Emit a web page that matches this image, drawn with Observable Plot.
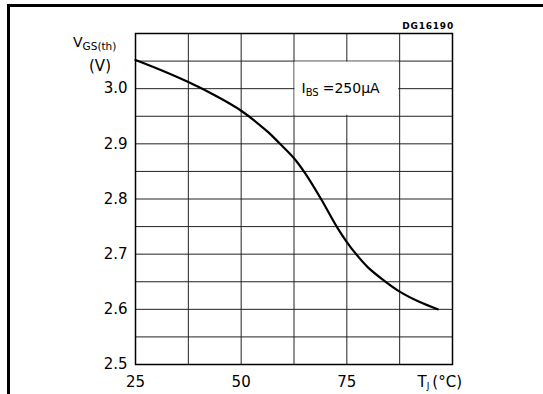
<!DOCTYPE html>
<html>
<head>
<meta charset="utf-8">
<script src="https://cdn.jsdelivr.net/npm/d3@7"></script>
<script src="https://cdn.jsdelivr.net/npm/@observablehq/plot@0.6"></script>
<style>
  html, body { margin: 0; padding: 0; background: #fff; }
  #wrap { position: relative; width: 543px; height: 394px; overflow: hidden; }
  #border { position: absolute; left: 7px; top: 4px; right: -10px; bottom: -10px;
            border-top: 3px solid #000; border-left: 3px solid #000; pointer-events: none; }
  svg { display: block; }
</style>
</head>
<body>
<div id="wrap"><div id="border"></div></div>
<script>
// Junction temperature (°C) and gate threshold voltage (V)
const tj  = [25, 31.25, 37.5, 43.75, 50, 56.25, 59.2, 62.5, 65.2, 68.9, 72.6, 75, 77.2, 80, 83.8, 87.5, 92, 96.5];
const vgs = [3.052, 3.033, 3.012, 2.988, 2.960, 2.922, 2.900, 2.874, 2.846, 2.800, 2.750, 2.722, 2.700, 2.676, 2.652, 2.632, 2.614, 2.600];

const xTicks = [25, 50, 75];
const yTicks = [2.5, 2.6, 2.7, 2.8, 2.9, 3.0];
const xGrid = [25, 37.5, 50, 62.5, 75, 87.5, 100];
const yGrid = [2.5, 2.55, 2.6, 2.65, 2.7, 2.75, 2.8, 2.85, 2.9, 2.95, 3.0, 3.05, 3.1];
const boxX = [62.5, 87.5];
const boxY = [2.95, 3.05];

const data = tj.map((t, i) => ({t, v: vgs[i]}));
const box = [{x1: boxX[0], x2: boxX[1], y1: boxY[0], y2: boxY[1]}];

const chart = Plot.plot({
  width: 543,
  height: 394,
  marginLeft: 135,
  marginRight: 91,
  marginTop: 33,
  marginBottom: 30,
  style: {fontFamily: "DejaVu Sans", fontSize: "15px", color: "#000", background: "transparent"},
  x: {domain: [25, 100], ticks: xTicks, tickSize: 0, tickPadding: 12, label: null},
  y: {domain: [2.5, 3.1], ticks: yTicks, tickSize: 0, tickPadding: 8, tickFormat: d3.format(".1f"), label: null},
  marks: [
    Plot.ruleX(xGrid, {stroke: "#222", strokeWidth: 1}),
    Plot.ruleY(yGrid, {stroke: "#222", strokeWidth: 1}),
    Plot.rect(box, {x1: "x1", x2: "x2", y1: "y1", y2: "y2", fill: "white", inset: 1}),
    Plot.line(data, {x: "t", y: "v", stroke: "#000", strokeWidth: 2.2, curve: "catmull-rom"}),
    Plot.frame({stroke: "#000", strokeWidth: 1.5})
  ]
});

document.getElementById("wrap").prepend(chart);

const xs = chart.scale("x"), ys = chart.scale("y");
const svg = d3.select(chart);
const g = svg.append("g").attr("font-family", "DejaVu Sans").attr("fill", "#000");

// Annotation I_BS = 250µA
const ann = g.append("text")
  .attr("x", xs.apply(62.5) + 8)
  .attr("y", ys.apply(3.0))
  .attr("dy", "0.36em")
  .attr("text-anchor", "start")
  .attr("font-size", 14);
ann.append("tspan").text("I");
ann.append("tspan").attr("font-size", 10).attr("dy", 3).text("BS");
ann.append("tspan").attr("dy", -3).attr("dx", 4).text("=250\u03bcA");

// Y axis title
const yt = g.append("text").attr("x", 73).attr("y", ys.apply(3.1) + 14)
  .attr("text-anchor", "start").attr("font-size", 14);
yt.append("tspan").text("V");
yt.append("tspan").attr("font-size", 10.5).attr("dy", 3).text("GS(th)");
g.append("text").attr("x", 100).attr("y", ys.apply(3.1) + 38)
  .attr("text-anchor", "middle").attr("font-size", 15).text("(V)");

// X axis title T_J (°C)
const xt = g.append("text")
  .attr("x", xs.apply(100) + 10)
  .attr("y", ys.apply(2.5) + 12)
  .attr("dy", "0.71em")
  .attr("text-anchor", "end")
  .attr("font-size", 15);
xt.append("tspan").text("T");
xt.append("tspan").attr("font-size", 9).attr("dy", 2).text("J");
xt.append("tspan").attr("dy", -2).attr("dx", 3).text("(\u00b0C)");

// Figure code
g.append("text")
  .attr("x", xs.apply(100) + 2)
  .attr("y", ys.apply(3.1) - 4)
  .attr("text-anchor", "end")
  .attr("font-size", 9)
  .attr("font-weight", "bold")
  .attr("letter-spacing", "0.8px")
  .text("DG16190");
</script>
</body>
</html>
